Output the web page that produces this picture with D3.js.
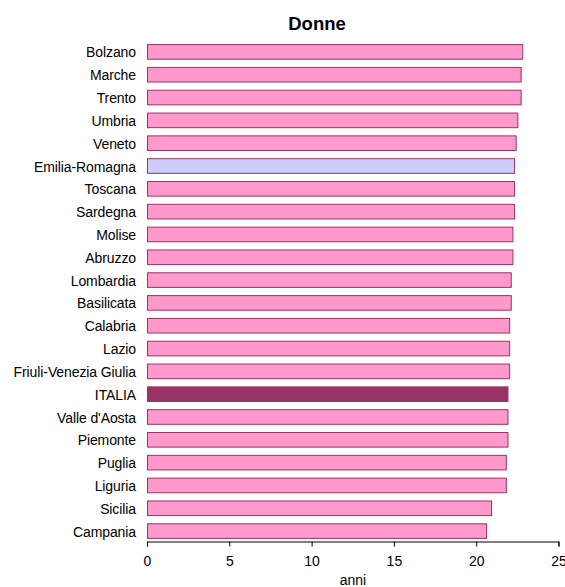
<!DOCTYPE html>
<html><head><meta charset="utf-8">
<script src="https://cdn.jsdelivr.net/npm/d3@7"></script>
<style>body{margin:0;background:#fff}</style>
</head><body>
<svg id="c" width="565" height="587"></svg>
<script>
const categories = ["Bolzano","Marche","Trento","Umbria","Veneto","Emilia-Romagna","Toscana","Sardegna","Molise","Abruzzo","Lombardia","Basilicata","Calabria","Lazio","Friuli-Venezia Giulia","ITALIA","Valle d'Aosta","Piemonte","Puglia","Liguria","Sicilia","Campania"];
const values = [22.8,22.7,22.7,22.5,22.4,22.3,22.3,22.3,22.2,22.2,22.1,22.1,22.0,22.0,22.0,21.9,21.9,21.9,21.8,21.8,20.9,20.6];
const xTicks = [0,5,10,15,20,25];
const title = "Donne";
const xLabel = "anni";

const svg = d3.select("#c");
const font = "'Liberation Sans', Arial, sans-serif";
const x = d3.scaleLinear().domain([0,25]).range([147,558.5]);
const y = d3.scaleBand().domain(categories).range([40,542]).paddingInner(0.36).paddingOuter(0.18);

function fillFor(c){ return c==="ITALIA" ? "#993366" : (c==="Emilia-Romagna" ? "#ccccff" : "#ff99cc"); }

svg.append("g").selectAll("rect").data(categories).join("rect")
  .attr("x", x(0)+0.5)
  .attr("y", d=>y(d)+0.5)
  .attr("width", (d,i)=>x(values[i])-x(0))
  .attr("height", y.bandwidth())
  .attr("fill", fillFor)
  .attr("stroke", "#993366")
  .attr("stroke-width", 1);

svg.append("g").selectAll("text").data(categories).join("text")
  .attr("x", 136)
  .attr("y", d=>y(d)+y.bandwidth()/2+1)
  .attr("text-anchor","end")
  .attr("dominant-baseline","central")
  .attr("font-family", font)
  .attr("font-size", 14)
  .attr("letter-spacing", -0.1)
  .attr("fill","#000")
  .text(d=>d);

const ax = svg.append("g").attr("transform","translate(0,541.5)")
  .call(d3.axisBottom(x).tickValues(xTicks).tickSize(5).tickPadding(10).tickFormat(d3.format("d")));
ax.select(".domain").attr("stroke","#000");
ax.selectAll(".tick line").attr("stroke","#000");
ax.selectAll(".tick text").attr("font-family",font).attr("font-size",14).attr("fill","#000");

svg.append("text").attr("x",353).attr("y",585).attr("text-anchor","middle")
  .attr("font-family",font).attr("font-size",14).text(xLabel);

svg.append("text").attr("x",317).attr("y",29.5).attr("text-anchor","middle")
  .attr("font-family",font).attr("font-size",18.5).attr("font-weight","bold").text(title);
</script>
</body></html>
